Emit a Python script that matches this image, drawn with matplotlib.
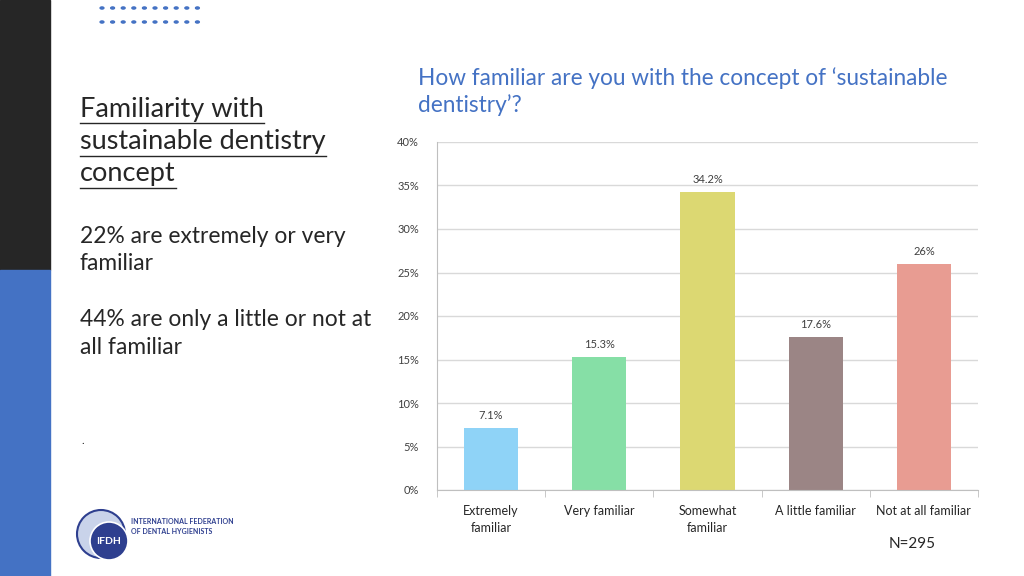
import matplotlib.pyplot as plt
import numpy as np
from matplotlib.patches import Rectangle, Circle, Ellipse
from matplotlib.lines import Line2D
from matplotlib.ticker import FuncFormatter, MultipleLocator

plt.rcParams['font.family'] = ['Lato', 'DejaVu Sans']

categories = ["Extremely\nfamiliar", "Very familiar", "Somewhat\nfamiliar",
              "A little familiar", "Not at all familiar"]
values = [7.1, 15.3, 34.2, 17.6, 26]
value_labels = ["7.1%", "15.3%", "34.2%", "17.6%", "26%"]
colors = ["#8fd3f7", "#86dfa6", "#dcd872", "#9b8585", "#e89c92"]

W, H = 1024, 576
fig = plt.figure(figsize=(W / 100, H / 100), dpi=100)
fig.patch.set_facecolor("white")

def fx(px):
    return px / W

def fy(py):
    return 1 - py / H

# side strip
fig.patches.append(Rectangle((0, fy(270)), fx(50), 270 / H, transform=fig.transFigure,
                             color="#262626", zorder=0))
fig.patches.append(Rectangle((0, 0), fx(50), fy(270), transform=fig.transFigure,
                             color="#4472c4", zorder=0))

# dotted decoration
for row in (8, 22):
    for i in range(10):
        fig.patches.append(Circle((fx(102 + i * 10.6), fy(row)), 1.9 / W,
                                  transform=fig.transFigure, color="#4472c4"))

# chart
ax = fig.add_axes([fx(437), fy(490), fx(978) - fx(437), (490 - 142) / H])
x = np.arange(len(categories))
ax.bar(x, values, width=0.5, color=colors, zorder=2)
for xi, v, lab in zip(x, values, value_labels):
    ax.text(xi, v + 0.8, lab, ha="center", va="bottom", fontsize=8, color="#404040")

ax.set_xlim(-0.5, len(categories) - 0.5)
ax.set_ylim(0, 40)
ax.yaxis.set_major_locator(MultipleLocator(5))
ax.yaxis.set_major_formatter(FuncFormatter(lambda v, p: f"{v:.0f}%"))
ax.grid(axis="y", color="#d9d9d9", linewidth=1, zorder=0)
ax.set_axisbelow(True)
for s in ("top", "right"):
    ax.spines[s].set_visible(False)
for s in ("left", "bottom"):
    ax.spines[s].set_color("#bfbfbf")
ax.tick_params(axis="y", length=0, labelsize=8, labelcolor="#404040", pad=13)
ax.set_xticks(x)
ax.set_xticklabels(categories, fontsize=9, color="#262626", linespacing=1.5)
ax.tick_params(axis="x", length=0, pad=11)
ax.set_xticks(np.arange(len(categories) + 1) - 0.5, minor=True)
ax.tick_params(axis="x", which="minor", length=5, color="#bfbfbf")

title_lines = ["How familiar are you with the concept of \u2018sustainable", "dentistry\u2019?"]
for i, line in enumerate(title_lines):
    fig.text(fx(418), fy(78 + i * 27), line, ha="left", va="center", fontsize=16.3,
             color="#4472c4")

# left text block
heading = ["Familiarity with", "sustainable dentistry", "concept"]
fig.canvas.draw()
renderer = fig.canvas.get_renderer()
for i, line in enumerate(heading):
    y = 109 + i * 32.5
    t = fig.text(fx(80), fy(y), line, ha="left", va="center", fontsize=19.5, color="#262626")
    bb = t.get_window_extent(renderer=renderer)
    fig.lines.append(Line2D([fx(80), bb.x1 / W], [fy(y + 14), fy(y + 14)],
                            transform=fig.transFigure, color="#262626", linewidth=1))

body = [(237, "22% are extremely or very"), (264, "familiar"),
        (320, "44% are only a little or not at"), (347, "all familiar")]
for y, line in body:
    fig.text(fx(80), fy(y), line, ha="left", va="center", fontsize=16.4, color="#262626")
fig.text(fx(81), fy(440), ".", ha="left", va="center", fontsize=8, color="#262626")

fig.text(fx(912), fy(544), "N=295", ha="center", va="center", fontsize=11, color="#262626")

# logo
fig.patches.append(Ellipse((fx(101), fy(534)), 48 / W, 48 / H, transform=fig.transFigure,
                           facecolor="#c9d3ea", edgecolor="#2e3f8f", linewidth=1.5))
fig.patches.append(Ellipse((fx(109), fy(541)), 38 / W, 38 / H, transform=fig.transFigure,
                           facecolor="#2e3f8f", edgecolor="white", linewidth=1.2))
fig.text(fx(109), fy(541), "IFDH", ha="center", va="center", fontsize=7.5,
         color="white", fontweight="bold")
fig.text(fx(131), fy(527), "INTERNATIONAL FEDERATION\nOF DENTAL HYGIENISTS", ha="left",
         va="center", fontsize=5, color="#2e3f8f", fontweight="bold", linespacing=1.5)

fig.savefig("out.png", dpi=100)
